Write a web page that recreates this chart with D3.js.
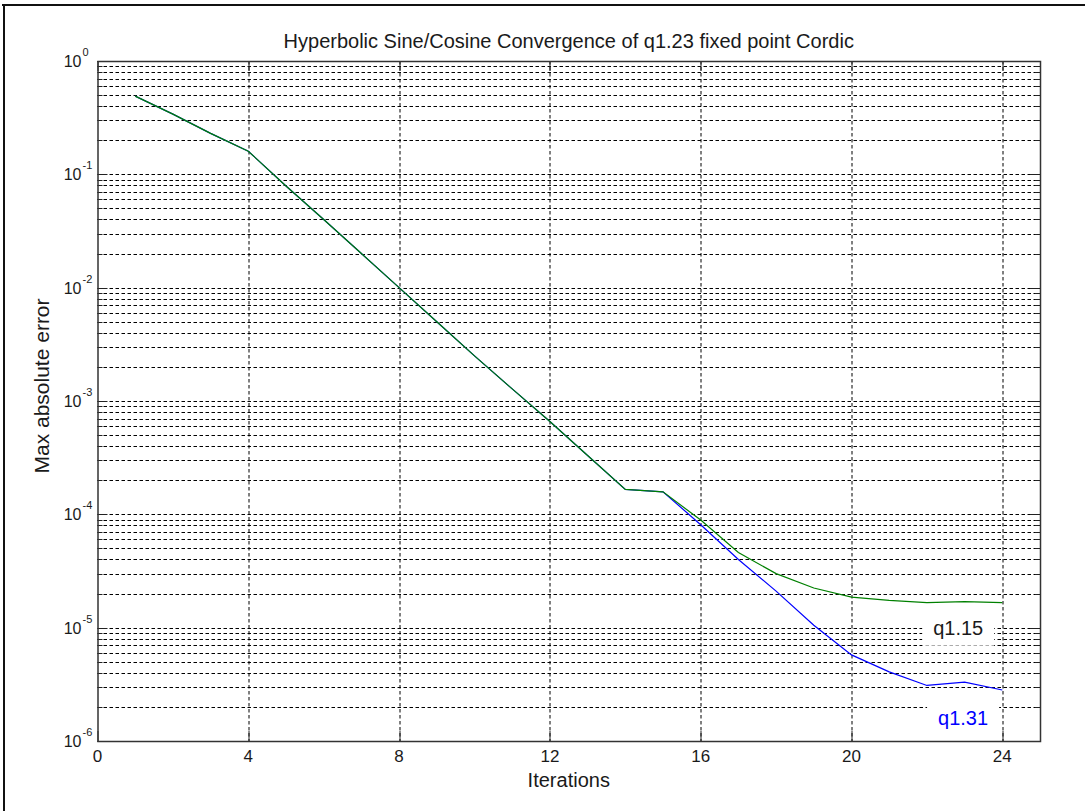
<!DOCTYPE html>
<html>
<head>
<meta charset="utf-8">
<script src="https://cdn.jsdelivr.net/npm/d3@7"></script>
<style>
  body { margin: 0; background: #fff; }
  text { font-family: "Liberation Sans", Arial, sans-serif; fill: #1a1a1a; }
</style>
</head>
<body>
<div id="chart"></div>
<script>
// data
var iterations = [1, 2, 3, 4, 5, 6, 7, 8, 9, 10, 11, 12, 13, 14, 15, 16, 17, 18, 19, 20, 21, 22, 23, 24]
var errQ15 = [0.49, 0.34, 0.23, 0.16, 0.079, 0.040, 0.020, 0.0100, 0.0050, 0.0025, 0.00128, 6.6e-4,
              3.3e-4, 1.66e-4, 1.58e-4, 8.9e-5, 4.6e-5, 3.0e-5, 2.24e-5, 1.86e-5, 1.74e-5, 1.66e-5, 1.70e-5, 1.66e-5]
var errQ31 = [0.49, 0.34, 0.23, 0.16, 0.079, 0.040, 0.020, 0.0100, 0.0050, 0.0025, 0.00128, 6.6e-4,
              3.3e-4, 1.66e-4, 1.58e-4, 8.1e-5, 4.0e-5, 2.1e-5, 1.05e-5, 5.75e-6, 4.07e-6, 3.09e-6, 3.31e-6, 2.82e-6]
var xTicks = [0, 4, 8, 12, 16, 20, 24]
var yDecades = [1e-6, 1e-5, 1e-4, 1e-3, 1e-2, 1e-1, 1]
var yExponents = ["-6", "-5", "-4", "-3", "-2", "-1", "0"]
var seriesNames = ["q1.15", "q1.31"]
var labelX = [22.83, 22.96]
var labelY = [1.0e-5, 1.6e-6]

var dimensions = {
    width: 1085,
    height: 811,
    margin: {top: 61, right: 45, bottom: 70, left: 97.5}
}
var innerW = dimensions.width - dimensions.margin.left - dimensions.margin.right
var innerH = dimensions.height - dimensions.margin.top - dimensions.margin.bottom

var svg = d3.select("#chart")
    .append("svg")
    .attr("width", dimensions.width)
    .attr("height", dimensions.height)

// frame of the cropped figure window
svg.append("line").attr("x1", 2).attr("x2", 1085).attr("y1", 5).attr("y2", 5)
    .attr("stroke", "#111").attr("stroke-width", 2)
svg.append("line").attr("x1", 4).attr("x2", 4).attr("y1", 4).attr("y2", 811)
    .attr("stroke", "#111").attr("stroke-width", 2)

var g = svg.append("g")
    .attr("transform", `translate(${dimensions.margin.left},${dimensions.margin.top})`)

var x = d3.scaleLinear().domain([0, 25]).range([0, innerW])
var y = d3.scaleLog().domain([1e-6, 1]).range([innerH, 0])

//grid lines
var yGrid = y.ticks()
g.append("g").selectAll("line")
    .data(yGrid)
    .enter()
    .append("line")
    .attr("x1", 0).attr("x2", innerW)
    .attr("y1", d => Math.round(y(d)) + 0.5)
    .attr("y2", d => Math.round(y(d)) + 0.5)
    .attr("stroke", "#000")
    .attr("stroke-dasharray", "3.5,2.5")

g.append("g").selectAll("line")
    .data(xTicks.slice(1))
    .enter()
    .append("line")
    .attr("x1", d => Math.round(x(d)) + 0.5).attr("x2", d => Math.round(x(d)) + 0.5)
    .attr("y1", 0).attr("y2", innerH)
    .attr("stroke", "#000")
    .attr("stroke-dasharray", "3.5,2.5")

//ticks (inside, both sides)
var isDecade = d => Math.abs(Math.log10(d) - Math.round(Math.log10(d))) < 1e-9
g.append("g").selectAll("path")
    .data(yGrid)
    .enter()
    .append("path")
    .attr("d", d => {
        var yy = Math.round(y(d)) + 0.5
        var len = isDecade(d) ? 10 : 5
        return `M0,${yy}h${len}M${innerW},${yy}h${-len}`
    })
    .attr("stroke", "#222")

g.append("g").selectAll("path")
    .data(xTicks)
    .enter()
    .append("path")
    .attr("d", d => {
        var xx = Math.round(x(d)) + 0.5
        return `M${xx},${innerH}v-10M${xx},0v10`
    })
    .attr("stroke", "#222")

//lines
var line = d3.line()
    .x((d, i) => x(iterations[i]))
    .y(d => y(d))

g.append("path")
    .datum(errQ31)
    .attr("d", line)
    .attr("fill", "none")
    .attr("stroke", "#0000ff")
    .attr("stroke-width", 1.2)

g.append("path")
    .datum(errQ15)
    .attr("d", line)
    .attr("fill", "none")
    .attr("stroke", "#008000")
    .attr("stroke-width", 1.2)

//axes box
g.append("rect")
    .attr("x", 0.5).attr("y", 0.5)
    .attr("width", innerW).attr("height", innerH)
    .attr("fill", "none")
    .attr("stroke", "#333")
    .attr("stroke-width", 1.5)

//series labels with white background
var labelColors = ["#1a1a1a", "#0000ff"]
seriesNames.forEach((name, i) => {
    var lg = g.append("g")
    var box = lg.append("rect").attr("fill", "#fff")
    var t = lg.append("text")
        .attr("x", x(labelX[i]))
        .attr("y", y(labelY[i]))
        .attr("dy", "0.35em")
        .attr("text-anchor", "middle")
        .attr("font-size", "20px")
        .style("fill", labelColors[i])
        .text(name)
    var bb = t.node().getBBox()
    box.attr("x", bb.x - 11).attr("y", bb.y - 7)
        .attr("width", bb.width + 22).attr("height", bb.height + 14)
})

//tick labels
g.append("g").selectAll("text")
    .data(xTicks)
    .enter()
    .append("text")
    .attr("x", d => x(d))
    .attr("y", innerH + 21)
    .attr("text-anchor", "middle")
    .attr("font-size", "17px")
    .text(d => d)

var yl = g.append("g").selectAll("g")
    .data(yDecades)
    .enter()
    .append("g")
    .attr("transform", d => `translate(-16,${y(d)})`)
yl.append("text")
    .attr("y", 6)
    .attr("text-anchor", "end")
    .attr("font-size", "16px")
    .text("10")
yl.append("text")
    .attr("x", 1)
    .attr("y", -5)
    .attr("font-size", "11px")
    .text((d, i) => yExponents[i])

//axis titles
svg.append("text")
    .attr("x", dimensions.margin.left + innerW / 2)
    .attr("y", 48)
    .attr("text-anchor", "middle")
    .attr("font-size", "20px")
    .text("Hyperbolic Sine/Cosine Convergence of q1.23 fixed point Cordic")

svg.append("text")
    .attr("x", dimensions.margin.left + innerW / 2)
    .attr("y", 787)
    .attr("text-anchor", "middle")
    .attr("font-size", "20px")
    .text("Iterations")

svg.append("text")
    .attr("transform", `translate(49,${dimensions.margin.top + innerH / 2 - 15}) rotate(-90)`)
    .attr("text-anchor", "middle")
    .attr("font-size", "21px")
    .text("Max absolute error")
</script>
</body>
</html>
